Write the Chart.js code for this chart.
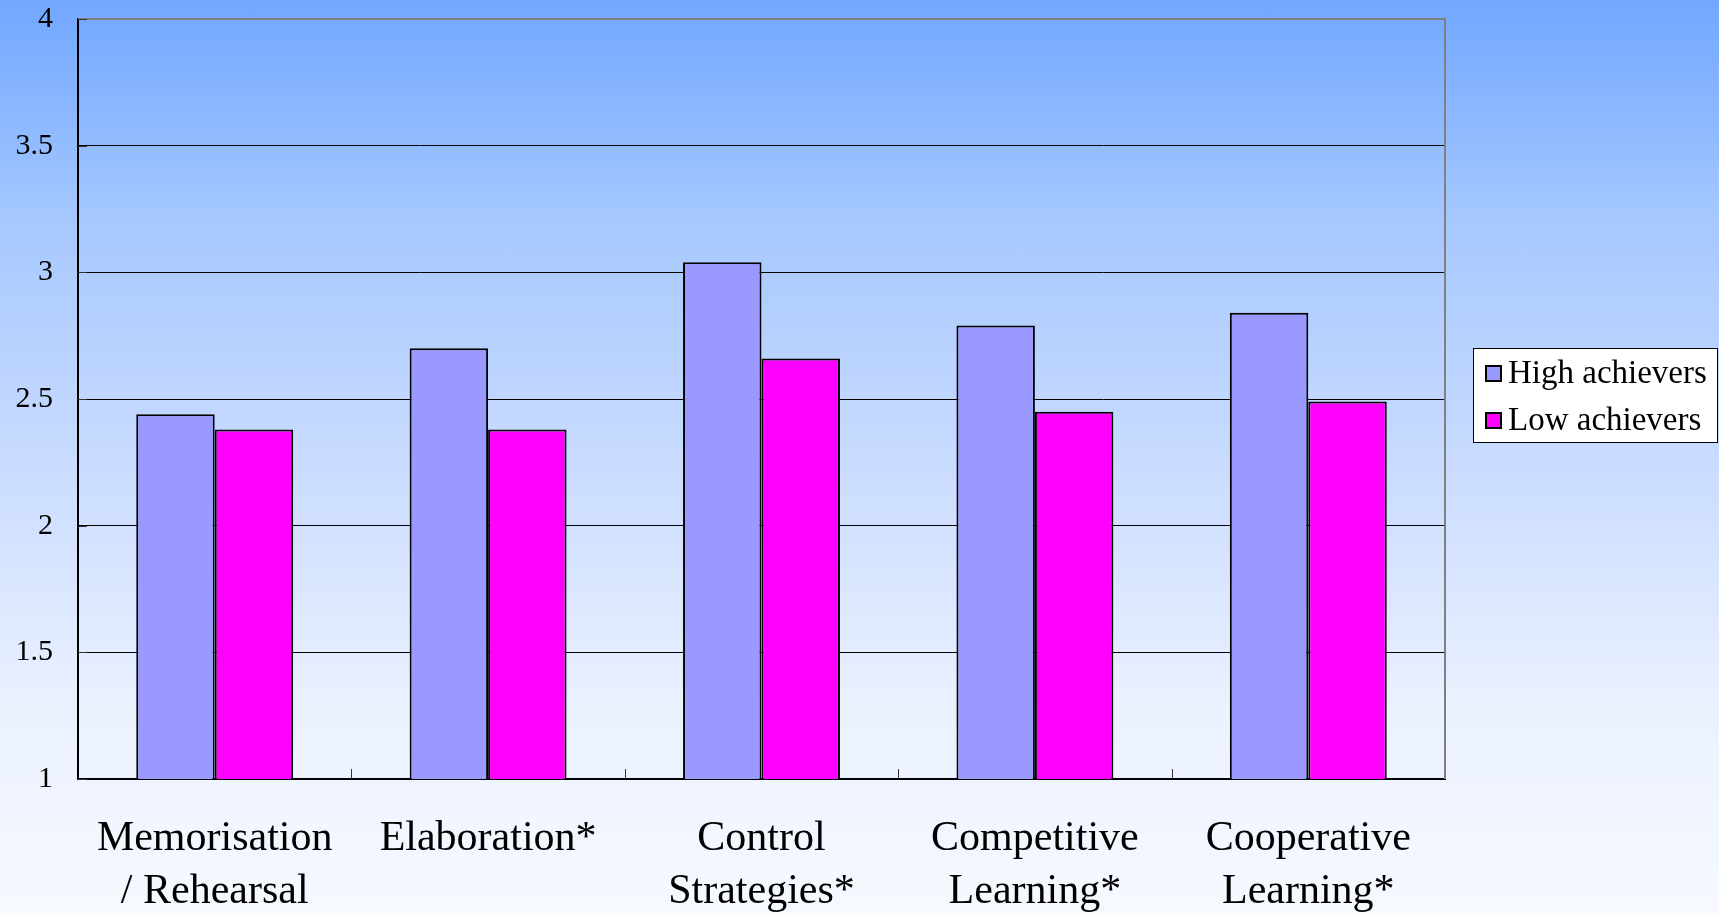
<!DOCTYPE html>
<html>
<head>
<meta charset="utf-8">
<script src="https://cdn.jsdelivr.net/npm/chart.js@4.4.1/dist/chart.umd.min.js"></script>
<style>
  html, body { margin: 0; padding: 0; }
  body {
    width: 1719px; height: 913px; overflow: hidden;
    background: linear-gradient(to bottom, #72a7ff 0%, #8cb8ff 13%, #a6c8ff 24%, #ccddff 53%, #eaf1ff 77%, #f6f9ff 100%);
  }
  #wrap { position: relative; width: 1719px; height: 913px; }
  canvas { display: block; }
</style>
</head>
<body>
<div id="wrap"><canvas id="grafico" width="1719" height="913"></canvas></div>
<script>
// dados do gráfico
const categorias = [
    ['Memorisation', '/ Rehearsal'],
    'Elaboration*',
    ['Control', 'Strategies*'],
    ['Competitive', 'Learning*'],
    ['Cooperative', 'Learning*']
];
const altos = [2.44, 2.70, 3.04, 2.79, 2.84];
const baixos = [2.38, 2.38, 2.66, 2.45, 2.49];
const nomesSeries = ['High achievers', 'Low achievers'];
const coresSeries = ['#9999ff', '#ff00ff'];
const escalaY = { min: 1, max: 4, passo: 0.5 };

const fonte = '"Liberation Serif", "Times New Roman", serif';

// borda cinza em cima e à direita + marcas internas
const molduraPlugin = {
    id: 'moldura',
    afterDatasetsDraw(chart) {
        const { ctx, chartArea: a, scales } = chart;
        ctx.save();
        ctx.strokeStyle = '#808080';
        ctx.lineWidth = 2;
        ctx.beginPath();
        ctx.moveTo(a.left, a.top);
        ctx.lineTo(a.right, a.top);
        ctx.lineTo(a.right, a.bottom);
        ctx.stroke();
        // marcas no eixo x entre as categorias
        ctx.strokeStyle = '#333';
        ctx.lineWidth = 1;
        for (let i = 1; i < categorias.length; i++) {
            const x = Math.round((scales.x.getPixelForValue(i - 1) + scales.x.getPixelForValue(i)) / 2) + 0.5;
            ctx.beginPath();
            ctx.moveTo(x, a.bottom);
            ctx.lineTo(x, a.bottom - 10);
            ctx.stroke();
        }
        // marcas no eixo y
        for (let v = escalaY.min; v <= escalaY.max; v += escalaY.passo) {
            const y = Math.round(scales.y.getPixelForValue(v)) + 0.5;
            ctx.beginPath();
            ctx.moveTo(a.left, y);
            ctx.lineTo(a.left + 9, y);
            ctx.stroke();
        }
        ctx.restore();
    }
};

// legenda com caixa branca
const legendaPlugin = {
    id: 'legendaCaixa',
    afterDraw(chart) {
        const ctx = chart.ctx;
        const x0 = 1473, y0 = 348, w = 245, h = 95;
        ctx.save();
        ctx.fillStyle = '#ffffff';
        ctx.strokeStyle = '#000000';
        ctx.lineWidth = 1;
        ctx.fillRect(x0, y0, w, h);
        ctx.strokeRect(x0 + 0.5, y0 + 0.5, w - 1, h - 1);
        ctx.font = '33px ' + fonte;
        ctx.textBaseline = 'middle';
        chart.data.datasets.forEach((ds, i) => {
            const cy = y0 + 26 + i * 47;
            ctx.fillStyle = ds.backgroundColor;
            ctx.fillRect(x0 + 13, cy - 8, 15, 15);
            ctx.lineWidth = 2;
            ctx.strokeRect(x0 + 13, cy - 8, 15, 15);
            ctx.fillStyle = '#000';
            ctx.fillText(ds.label, x0 + 35, cy);
        });
        ctx.restore();
    }
};

const ctx = document.getElementById('grafico').getContext('2d');
window.meuGrafico = new Chart(ctx, {
    type: 'bar',
    data: {
        labels: categorias,
        datasets: [
            { label: nomesSeries[0], data: altos, backgroundColor: coresSeries[0] },
            { label: nomesSeries[1], data: baixos, backgroundColor: coresSeries[1] }
        ]
    },
    options: {
        responsive: false,
        animation: false,
        devicePixelRatio: 1,
        layout: { padding: { top: 19, right: 274, left: 0, bottom: 0 } },
        datasets: {
            bar: {
                borderColor: '#000000',
                borderWidth: 2,
                barPercentage: 1,
                categoryPercentage: 0.574
            }
        },
        plugins: {
            legend: { display: false },
            tooltip: { enabled: false }
        },
        scales: {
            x: {
                grid: { display: false, drawTicks: false },
                border: { color: '#000', width: 2 },
                ticks: {
                    color: '#000',
                    padding: 34,
                    maxRotation: 0,
                    autoSkip: false,
                    font: { family: fonte, size: 42, lineHeight: 1.25 }
                },
                afterFit(s) { s.height = 134; }
            },
            y: {
                min: escalaY.min,
                max: escalaY.max,
                grid: {
                    drawTicks: false,
                    color: c => c.tick && c.tick.value === escalaY.max ? 'rgba(0,0,0,0)' : '#000',
                    lineWidth: 1
                },
                border: { color: '#000', width: 2 },
                ticks: {
                    stepSize: escalaY.passo,
                    color: '#000',
                    padding: 25,
                    font: { family: fonte, size: 30 },
                    callback: v => String(v)
                },
                afterFit(s) {
                    s.width = 78;
                    s.paddingTop = 0;
                    s.paddingBottom = 0;
                }
            }
        }
    },
    plugins: [molduraPlugin, legendaPlugin]
});
</script>
</body>
</html>
